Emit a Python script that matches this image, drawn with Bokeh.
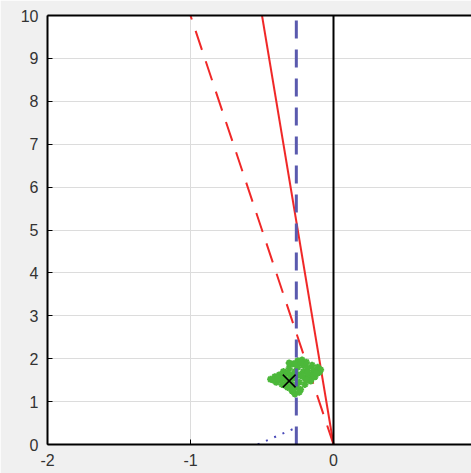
from bokeh.plotting import figure
from bokeh.models import Range1d, FixedTicker, LinearAxis, Span
from bokeh.embed import file_html
from bokeh.resources import INLINE

# Axis ticks
x_ticks = [-2, -1, 0]
x_tick_labels = ["-2", "-1", "0"]
y_ticks = [0, 1, 2, 3, 4, 5, 6, 7, 8, 9, 10]

# Boundary lines through the origin
solid_x = [0.0, -0.5]
solid_y = [0.0, 10.0]
dashed_x = [0.0, -1.0]
dashed_y = [0.0, 10.0]

# Vertical reference at the estimate
ref_x = [-0.26, -0.26]
ref_y = [0.0, 10.0]

# Dotted path near the bottom
dot_x = [-0.53, -0.27]
dot_y = [0.0, 0.38]

# Sample cloud
cloud_x = [-0.44, -0.41, -0.40, -0.38, -0.37, -0.36, -0.35, -0.34, -0.33, -0.32,
           -0.31, -0.30, -0.30, -0.29, -0.29, -0.28, -0.27, -0.27, -0.27, -0.26,
           -0.25, -0.25, -0.24, -0.24, -0.23, -0.22, -0.21, -0.21, -0.20, -0.20,
           -0.19, -0.18, -0.17, -0.16, -0.15, -0.14, -0.13, -0.11, -0.10, -0.09,
           -0.36, -0.32, -0.26, -0.22, -0.18, -0.42, -0.39, -0.28, -0.24, -0.34,
           -0.31, -0.23, -0.19, -0.14, -0.12]
cloud_y = [1.52, 1.58, 1.45, 1.62, 1.50, 1.40, 1.70, 1.56, 1.45, 1.33,
           1.78, 1.62, 1.50, 1.40, 1.25, 1.88, 1.70, 1.55, 1.18, 1.35,
           1.95, 1.80, 1.62, 1.45, 1.28, 1.97, 1.85, 1.70, 1.55, 1.40,
           1.92, 1.78, 1.62, 1.48, 1.85, 1.72, 1.58, 1.80, 1.68, 1.74,
           1.60, 1.68, 1.88, 1.60, 1.68, 1.50, 1.55, 1.30, 1.22, 1.38,
           1.90, 1.92, 1.50, 1.62, 1.66]

# Mean of the cloud
mean_x = [-0.31]
mean_y = [1.48]

p = figure(width=471, height=473, output_backend="svg", toolbar_location=None,
           x_range=Range1d(-2, 0.965), y_range=Range1d(0, 10),
           min_border_left=47, min_border_right=0, min_border_top=15,
           min_border_bottom=29)
p.border_fill_color = "#f0f0f0"
p.background_fill_color = "white"
p.outline_line_color = None

for ax, ticks in ((p.xaxis[0], x_ticks), (p.yaxis[0], y_ticks)):
    ax.ticker = FixedTicker(ticks=ticks)
    ax.minor_tick_line_color = None
    ax.major_tick_in = 5
    ax.major_tick_out = 0
    ax.major_tick_line_color = "black"
    ax.axis_line_color = "black"
    ax.axis_line_width = 2
    ax.major_label_text_font = "Liberation Sans"
    ax.major_label_text_font_size = "16px"
    ax.major_label_text_color = "#333333"
    ax.major_label_standoff = 9
p.xaxis[0].major_label_overrides = dict(zip(x_ticks, x_tick_labels))

top = LinearAxis(ticker=FixedTicker(ticks=[]), axis_line_width=2,
                 axis_line_color="black", major_label_text_font_size="0px",
                 major_tick_line_color=None, minor_tick_line_color=None)
p.add_layout(top, "above")

p.xgrid.ticker = FixedTicker(ticks=x_ticks)
p.ygrid.ticker = FixedTicker(ticks=y_ticks)
p.xgrid.grid_line_color = "#dcdcdc"
p.ygrid.grid_line_color = "#dcdcdc"

p.add_layout(Span(location=0, dimension="height", line_color="black", line_width=2))

p.line(dashed_x, dashed_y, line_color="#f02828", line_width=2, line_dash="20 12")
p.line(solid_x, solid_y, line_color="#f02828", line_width=2)
p.scatter(cloud_x, cloud_y, marker="asterisk", size=7, line_color="#4cb83a",
          line_width=2)
p.line(ref_x, ref_y, line_color="#5a5aae", line_width=3, line_dash="18 11")
p.line(dot_x, dot_y, line_color="#4848b8", line_width=2, line_dash="2 7")
p.scatter(mean_x, mean_y, marker="x", size=18, line_color="black", line_width=1.5)

open("out.html", "w").write(file_html(p, INLINE))
